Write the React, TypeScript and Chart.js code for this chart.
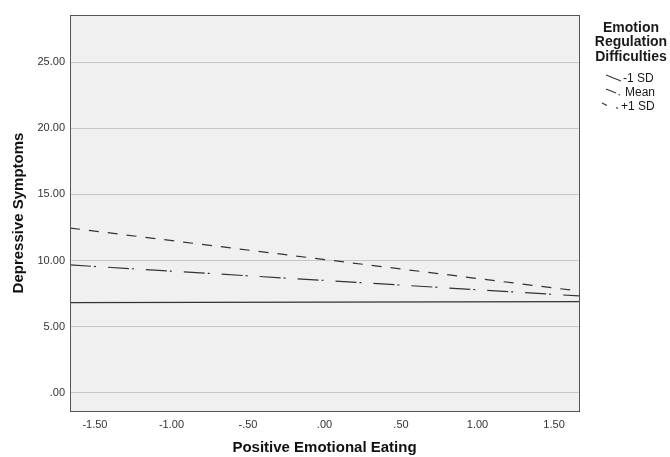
import React, { useEffect, useRef } from "react";
import { Chart, registerables } from "chart.js";

Chart.register(...registerables);

const xEnds = [-1.663, 1.663];
const lowSD = [6.82, 6.9];
const meanVals = [9.67, 7.33];
const highSD = [12.46, 7.7];
const seriesNames = ["-1 SD", "Mean", "+1 SD"];
const xTickValues = [-1.5, -1.0, -0.5, 0, 0.5, 1.0, 1.5];
const yTickValues = [0, 5, 10, 15, 20, 25];
const legendTitle = ["Emotion", "Regulation", "Difficulties"];

const fmt = (v: number) => {
  let s = Math.abs(v).toFixed(2);
  if (s.startsWith("0")) s = s.slice(1);
  return (v < 0 ? "-" : "") + s;
};

const FONT = "'Liberation Sans', Arial, sans-serif";
const LINE = "#333333";
const dashMean = [21, 3, 2, 12];
const dashHigh = [10, 9];

const framePlugin = {
  id: "frame",
  beforeDraw(chart: any) {
    const { ctx, chartArea: a } = chart;
    ctx.save();
    ctx.fillStyle = "#f0f0f0";
    ctx.fillRect(a.left, a.top, a.right - a.left, a.bottom - a.top);
    ctx.restore();
  },
  afterDraw(chart: any) {
    const { ctx, chartArea: a } = chart;
    ctx.save();
    ctx.strokeStyle = "#555555";
    ctx.lineWidth = 1;
    ctx.strokeRect(Math.round(a.left) + 0.5, Math.round(a.top) + 0.5, Math.round(a.right - a.left), Math.round(a.bottom - a.top));
    // legend
    const cx = 631;
    ctx.fillStyle = "#1a1a1a";
    ctx.textAlign = "center";
    ctx.textBaseline = "middle";
    ctx.font = `bold 14px ${FONT}`;
    legendTitle.forEach((t, i) => ctx.fillText(t, cx, 28 + i * 14.5));
    ctx.font = `12px ${FONT}`;
    ctx.textAlign = "left";
    const ys = [79, 93, 107];
    const xs = [623, 625, 621];
    seriesNames.forEach((n, i) => ctx.fillText(n, xs[i], ys[i]));
    ctx.strokeStyle = LINE;
    ctx.lineWidth = 1.1;
    const seg = (x1: number, y1: number, x2: number, y2: number) => {
      ctx.beginPath();
      ctx.moveTo(x1, y1);
      ctx.lineTo(x2, y2);
      ctx.stroke();
    };
    seg(606, 75, 621, 81);
    seg(606, 89, 616, 93);
    seg(618.5, 94.5, 620, 95);
    seg(602, 103, 607, 105.5);
    seg(616, 107.5, 618, 108.5);
    ctx.restore();
  },
};

export default function App() {
  const ref = useRef<HTMLCanvasElement | null>(null);
  useEffect(() => {
    if (!ref.current) return;
    const mk = (vals: number[]) => xEnds.map((x, i) => ({ x, y: vals[i] }));
    const chart = new Chart(ref.current, {
      type: "line",
      data: {
        datasets: [
          { label: seriesNames[0], data: mk(lowSD), borderColor: LINE, borderWidth: 1.2, pointRadius: 0, fill: false },
          { label: seriesNames[1], data: mk(meanVals), borderColor: LINE, borderWidth: 1.2, borderDash: dashMean, pointRadius: 0, fill: false },
          { label: seriesNames[2], data: mk(highSD), borderColor: LINE, borderWidth: 1.2, borderDash: dashHigh, pointRadius: 0, fill: false },
        ],
      },
      options: {
        animation: false,
        responsive: false,
        maintainAspectRatio: false,
        devicePixelRatio: 1,
        layout: { padding: { top: 15, right: 91, left: 0, bottom: 0 } },
        plugins: { legend: { display: false }, tooltip: { enabled: false } },
        scales: {
          x: {
            type: "linear",
            min: xEnds[0],
            max: xEnds[1],
            afterBuildTicks: (s: any) => { s.ticks = xTickValues.map((v) => ({ value: v })); },
            afterFit: (s: any) => { s.height = 46; },
            grid: { display: false, drawTicks: false },
            border: { display: false },
            ticks: { padding: 7, color: "#333", font: { family: FONT, size: 11 }, callback: (v: any) => fmt(Number(v)), maxRotation: 0, autoSkip: false },
            title: { display: true, text: "Positive Emotional Eating", color: "#111", font: { family: FONT, size: 15, weight: "bold", lineHeight: 1 }, padding: { top: 0, bottom: 2 } },
          },
          y: {
            min: -1.36,
            max: 28.55,
            afterBuildTicks: (s: any) => { s.ticks = yTickValues.map((v) => ({ value: v })); },
            afterFit: (s: any) => { s.width = 70; },
            grid: { color: "#c6c6c6", lineWidth: 1, drawTicks: false },
            border: { display: false },
            ticks: { padding: 5, color: "#333", font: { family: FONT, size: 11 }, callback: (v: any) => fmt(Number(v)), autoSkip: false },
            title: { display: true, text: "Depressive Symptoms", color: "#111", font: { family: FONT, size: 15, weight: "bold", lineHeight: 1 }, padding: { top: 11, bottom: 0 } },
          },
        },
      },
      plugins: [framePlugin],
    } as any);
    return () => chart.destroy();
  }, []);
  return (
    <div style={{ position: "absolute", left: 0, top: 0, width: 670, height: 457, background: "#fff" }}>
      <canvas ref={ref} width={670} height={457} style={{ width: 670, height: 457 }} />
    </div>
  );
}
